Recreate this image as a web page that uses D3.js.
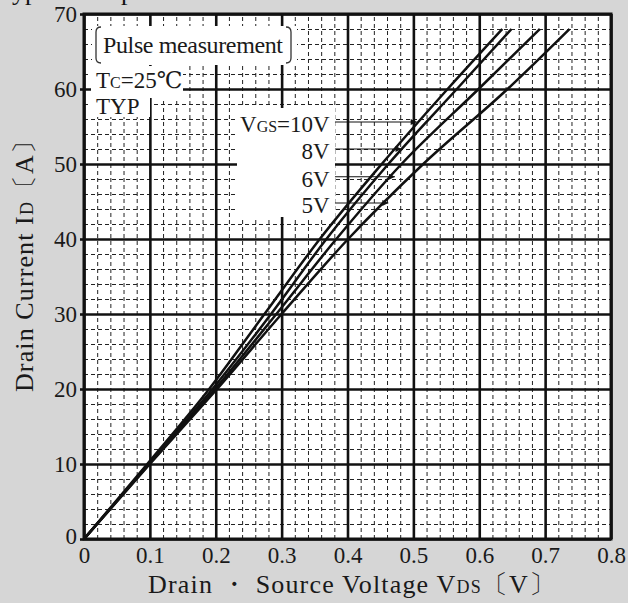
<!DOCTYPE html>
<html>
<head>
<meta charset="utf-8">
<script src="https://cdn.jsdelivr.net/npm/d3@7"></script>
<style>
  body { margin: 0; background: #d6d6d6; }
  svg { display: block; }
  svg text { font-family: "Liberation Serif", "Times New Roman", "DejaVu Serif", serif; }
</style>
</head>
<body>
<svg id="chart" width="628" height="603"></svg>
<script>
// Drain current points (A)
const idPoints = [0, 10, 20, 30, 40, 50, 60, 68];
// VDS (V) at those currents, one array per gate voltage
const vdsAt10V = [0, 0.096, 0.190, 0.274, 0.358, 0.452, 0.552, 0.635];
const vdsAt8V = [0, 0.098, 0.195, 0.284, 0.368, 0.462, 0.566, 0.649];
const vdsAt6V = [0, 0.099, 0.199, 0.292, 0.383, 0.482, 0.599, 0.692];
const vdsAt5V = [0, 0.100, 0.202, 0.300, 0.401, 0.515, 0.643, 0.737];

const seriesNames = ['10V', '8V', '6V', '5V'];
const seriesVds = [vdsAt10V, vdsAt8V, vdsAt6V, vdsAt5V];
// where each label arrow touches its curve: [VDS, ID]
const arrowTips = [[0.505, 55.6], [0.482, 52.0], [0.472, 48.3], [0.462, 44.8]];

const xTicks = [0, 0.1, 0.2, 0.3, 0.4, 0.5, 0.6, 0.7, 0.8];
const yTicks = [0, 10, 20, 30, 40, 50, 60, 70];
const xMinor = d3.range(0, 0.8001, 0.02);
const yMinor = d3.range(0, 70.001, 2);

const width = 628, height = 603;
const margin = { top: 14, right: 17, bottom: 64, left: 84 };
const innerWidth = width - margin.left - margin.right;
const innerHeight = height - margin.top - margin.bottom;

const svg = d3.select('#chart');

svg.append('defs').append('marker')
  .attr('id', 'arrow')
  .attr('viewBox', '0 0 10 10')
  .attr('refX', 10)
  .attr('refY', 5)
  .attr('markerWidth', 9)
  .attr('markerHeight', 6)
  .attr('orient', 'auto')
  .append('path')
  .attr('d', 'M0,0L10,5L0,10z')
  .attr('fill', '#111');

// title of the scan, cut off by the top edge
svg.append('text')
  .attr('x', -2)
  .attr('y', 0)
  .attr('font-size', 26)
  .attr('fill', '#111')
  .text('Typical Output Characteristics');

const x = d3.scaleLinear().domain([0, 0.8]).range([0, innerWidth]);
const y = d3.scaleLinear().domain([0, 70]).range([innerHeight, 0]);

const g = svg.append('g')
  .attr('transform', `translate(${margin.left},${margin.top})`);

g.append('rect')
  .attr('width', innerWidth)
  .attr('height', innerHeight)
  .attr('fill', '#fff');

// minor dashed grid
g.append('g')
  .attr('transform', `translate(0,${innerHeight})`)
  .call(d3.axisBottom(x).tickValues(xMinor).tickSize(-innerHeight).tickFormat(''))
  .call(s => s.select('.domain').remove())
  .selectAll('line')
  .attr('stroke', '#222')
  .attr('stroke-width', 1)
  .attr('stroke-dasharray', '4,3');

g.append('g')
  .call(d3.axisLeft(y).tickValues(yMinor).tickSize(-innerWidth).tickFormat(''))
  .call(s => s.select('.domain').remove())
  .selectAll('line')
  .attr('stroke', '#222')
  .attr('stroke-width', 1)
  .attr('stroke-dasharray', '4,3');

// major grid
g.append('g')
  .attr('transform', `translate(0,${innerHeight})`)
  .call(d3.axisBottom(x).tickValues(xTicks).tickSize(-innerHeight).tickFormat(''))
  .call(s => s.select('.domain').remove())
  .selectAll('line')
  .attr('stroke', '#111')
  .attr('stroke-width', 2.6);

g.append('g')
  .call(d3.axisLeft(y).tickValues(yTicks).tickSize(-innerWidth).tickFormat(''))
  .call(s => s.select('.domain').remove())
  .selectAll('line')
  .attr('stroke', '#111')
  .attr('stroke-width', 2.6);

// white patches behind the annotations
const patches = [
  [8, 12, 205, 39],    // pulse measurement
  [7, 52, 92, 32],     // Tc
  [7, 83, 59, 20],     // TYP
  [153, 94, 98, 109]   // gate voltage labels
];
g.selectAll('rect.patch')
  .data(patches)
  .join('rect')
  .attr('class', 'patch')
  .attr('x', d => d[0])
  .attr('y', d => d[1])
  .attr('width', d => d[2])
  .attr('height', d => d[3])
  .attr('fill', '#fff');

// curves
const line = d3.line()
  .x(d => x(d[0]))
  .y(d => y(d[1]))
  .curve(d3.curveMonotoneX);

seriesVds.forEach(vds => {
  g.append('path')
    .datum(vds.map((v, i) => [v, idPoints[i]]))
    .attr('fill', 'none')
    .attr('stroke', '#111')
    .attr('stroke-width', 2.5)
    .attr('d', line);
});

// axis labels
g.append('g')
  .attr('transform', `translate(0,${innerHeight})`)
  .call(d3.axisBottom(x).tickValues(xTicks).tickSize(0).tickPadding(8).tickFormat(d => d === 0 ? '0' : d3.format('.1f')(d)))
  .call(s => s.select('.domain').remove())
  .selectAll('text')
  .attr('font-size', 23)
  .attr('fill', '#1a1a1a');

g.append('g')
  .call(d3.axisLeft(y).tickValues(yTicks).tickSize(4).tickPadding(3))
  .call(s => s.select('.domain').remove())
  .call(s => s.selectAll('line').attr('stroke', '#111').attr('stroke-width', 2.6))
  .call(s => s.selectAll('text').filter(d => d === 0).attr('dy', '0.2em'))
  .selectAll('text')
  .attr('font-size', 23)
  .attr('fill', '#1a1a1a');

// border
g.append('rect')
  .attr('width', innerWidth)
  .attr('height', innerHeight)
  .attr('fill', 'none')
  .attr('stroke', '#111')
  .attr('stroke-width', 3);

// annotations
const note = g.append('g')
  .attr('fill', '#1a1a1a');

note.append('text')
  .attr('x', 19)
  .attr('y', 39)
  .attr('font-size', 24)
  .attr('textLength', 180)
  .text('Pulse measurement');

note.append('path')
  .attr('d', 'M17,13 Q12,13 12,18 L12,44 Q12,49 17,49 M202,13 Q207,13 207,18 L207,44 Q207,49 202,49')
  .attr('fill', 'none')
  .attr('stroke', '#333')
  .attr('stroke-width', 1.3);

const tc = note.append('text')
  .attr('x', 12)
  .attr('y', 74)
  .attr('font-size', 23);
tc.append('tspan').text('T');
tc.append('tspan').attr('font-size', 16).text('C');
tc.append('tspan').text('=25℃');

note.append('text')
  .attr('x', 12)
  .attr('y', 100)
  .attr('font-size', 23)
  .text('TYP');

const labelX = x(0.373);
const arrowStart = x(0.381);
arrowTips.forEach((tip, i) => {
  const ty = y(tip[1]);
  const t = note.append('text')
    .attr('x', labelX)
    .attr('y', ty + 10)
    .attr('text-anchor', 'end')
    .attr('font-size', 23);
  if (i === 0) {
    t.append('tspan').text('V');
    t.append('tspan').attr('font-size', 16).text('GS');
    t.append('tspan').text('=' + seriesNames[i]);
  } else {
    t.text(seriesNames[i]);
  }
  g.append('line')
    .attr('x1', arrowStart)
    .attr('x2', x(tip[0]))
    .attr('y1', ty)
    .attr('y2', ty)
    .attr('stroke', '#111')
    .attr('stroke-width', 1)
    .attr('marker-end', 'url(#arrow)');
});

// axis titles
const xTitle = svg.append('text')
  .attr('x', 148)
  .attr('y', 593)
  .attr('font-size', 26)
  .attr('textLength', 407)
  .attr('fill', '#1a1a1a');
xTitle.append('tspan').text('Drain ・ Source Voltage  V');
xTitle.append('tspan').attr('font-size', 18).text('DS');
xTitle.append('tspan').text('〔V〕');

const yTitle = svg.append('text')
  .attr('transform', 'translate(33,392) rotate(-90)')
  .attr('font-size', 26)
  .attr('textLength', 264)
  .attr('fill', '#1a1a1a');
yTitle.append('tspan').text('Drain Current  I');
yTitle.append('tspan').attr('font-size', 18).text('D');
yTitle.append('tspan').text('〔A〕');
</script>
</body>
</html>
